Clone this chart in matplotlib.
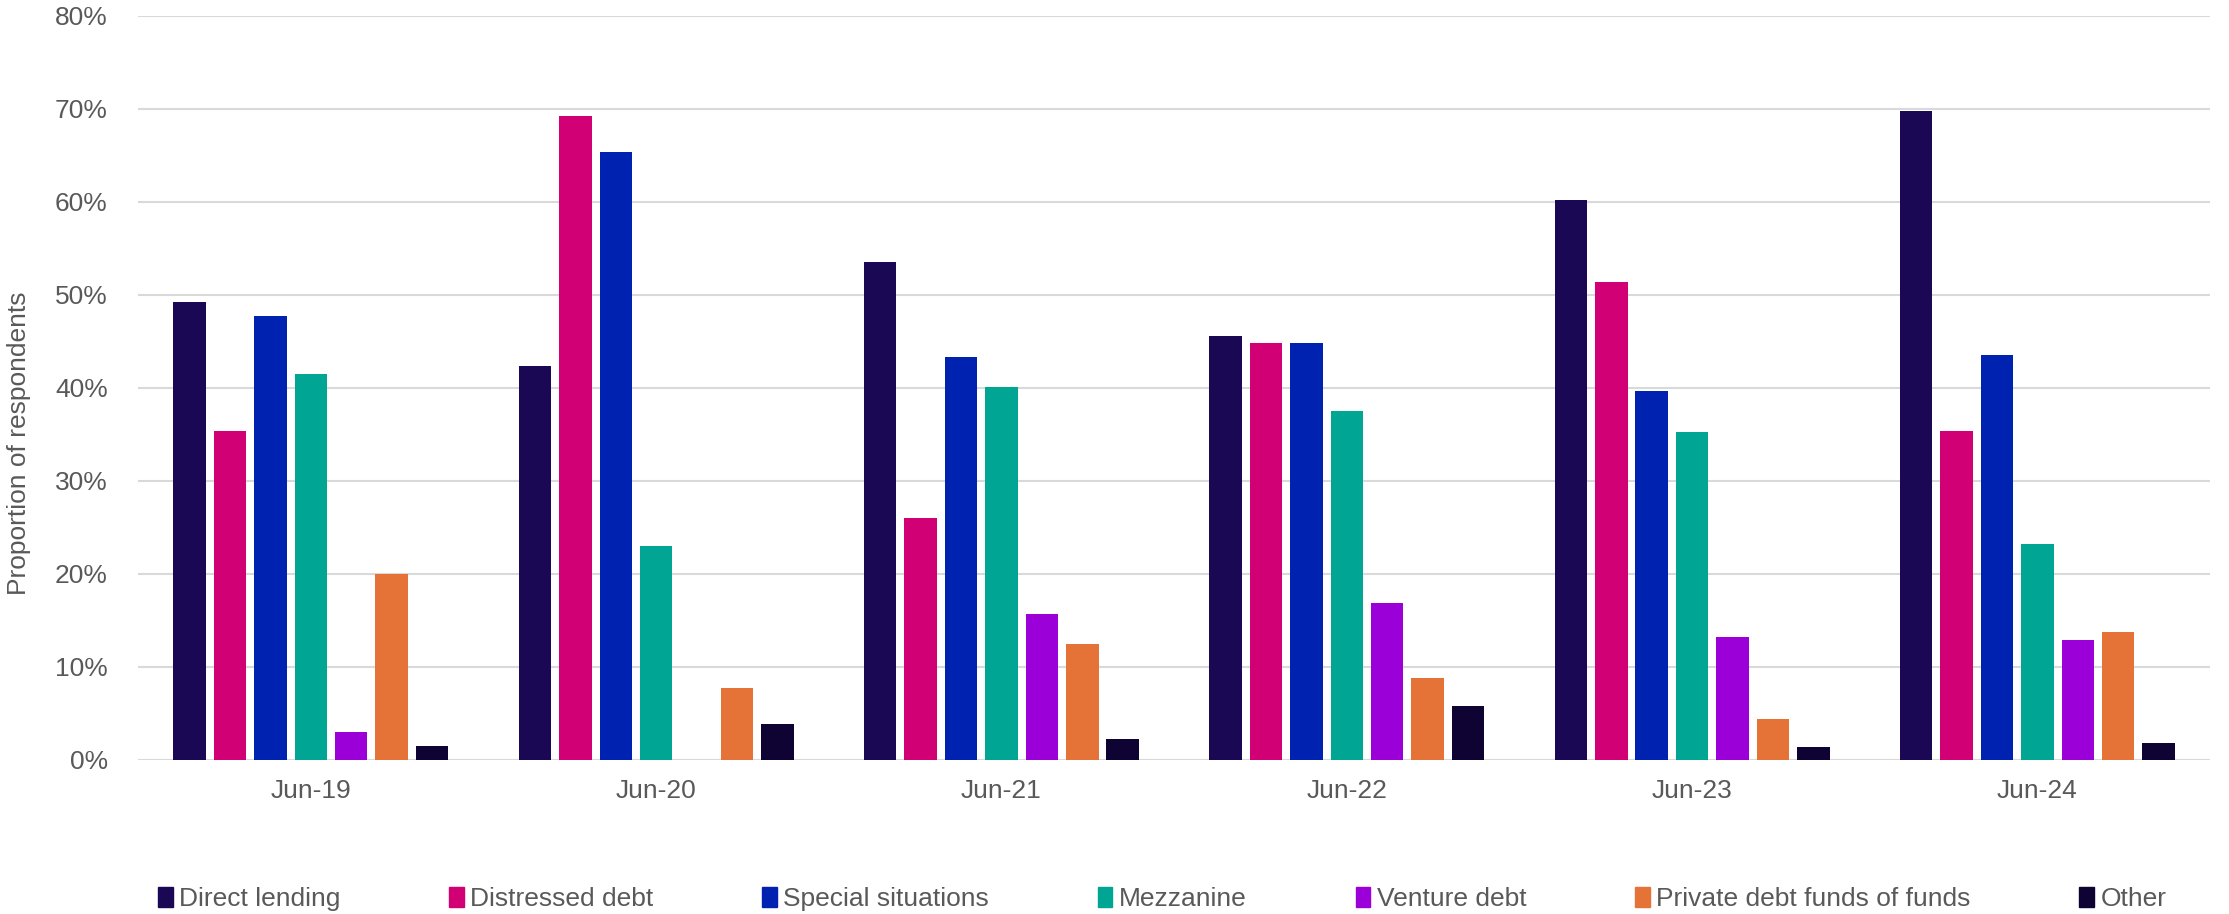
import numpy as np
import matplotlib.pyplot as plt
from matplotlib.ticker import PercentFormatter
from matplotlib.patches import Patch

plt.rcParams['font.family'] = ['Liberation Sans', 'DejaVu Sans']

periods = ["Jun-19", "Jun-20", "Jun-21", "Jun-22", "Jun-23", "Jun-24"]
strategies = ["Direct lending", "Distressed debt", "Special situations", "Mezzanine",
              "Venture debt", "Private debt funds of funds", "Other"]
colors = ["#1b0855", "#d10074", "#0022b0", "#00a594", "#9b00d9", "#e57236", "#0f0333"]

# values in %, one list per strategy (Jun-19 .. Jun-24)
direct_lending = [49.2, 42.3, 53.5, 45.6, 60.2, 69.7]
distressed_debt = [35.4, 69.2, 26.0, 44.8, 51.4, 35.4]
special_situations = [47.7, 65.3, 43.3, 44.8, 39.6, 43.5]
mezzanine = [41.5, 23.0, 40.1, 37.5, 35.3, 23.2]
venture_debt = [3.05, 0.0, 15.7, 16.9, 13.2, 12.9]
pd_fund_of_funds = [20.0, 7.7, 12.5, 8.8, 4.4, 13.8]
other = [1.5, 3.86, 2.3, 5.84, 1.4, 1.8]

series = [direct_lending, distressed_debt, special_situations, mezzanine,
          venture_debt, pd_fund_of_funds, other]

fig = plt.figure(figsize=(22.29, 9.14), dpi=100)
ax = fig.add_axes([0.062, 0.1685, 0.9295, 0.8145])

x = np.arange(len(periods))
pitch = 0.117
for i, (name, vals, c) in enumerate(zip(strategies, series, colors)):
    ax.bar(x + (i - 3) * pitch, vals, width=0.094, color=c, label=name, zorder=3)

ax.set_ylim(0, 80)
ax.set_xlim(-0.5, len(periods) - 0.5)
ax.set_yticks(np.arange(0, 81, 10))
ax.yaxis.set_major_formatter(PercentFormatter(decimals=0))
ax.set_xticks(x)
ax.set_xticklabels(periods)
ax.grid(axis='y', color='#d9d9d9', linewidth=1.5, zorder=0)
for s in ax.spines.values():
    s.set_visible(False)
ax.axhline(0, color='#d9d9d9', linewidth=1.8, zorder=2)
ax.tick_params(axis='both', length=0, labelsize=19, colors='#595959')
ax.tick_params(axis='x', pad=14)
ax.tick_params(axis='y', pad=22)

# y label sits a bit below the axis centre, as in the source chart
fig.text(0.0083, 0.515, "Proportion of respondents", rotation=90, fontsize=19,
         color='#595959', ha='center', va='center')

handles = [Patch(color=c, label=n) for n, c in zip(strategies, colors)]
fig.legend(handles=handles, loc='lower center', ncol=7, frameon=False,
           bbox_to_anchor=(0.5214, -0.023), fontsize=19, labelcolor='#595959',
           handlelength=0.55, handleheight=0.75, handletextpad=0.25, columnspacing=4.12)

fig.savefig("out.png")
